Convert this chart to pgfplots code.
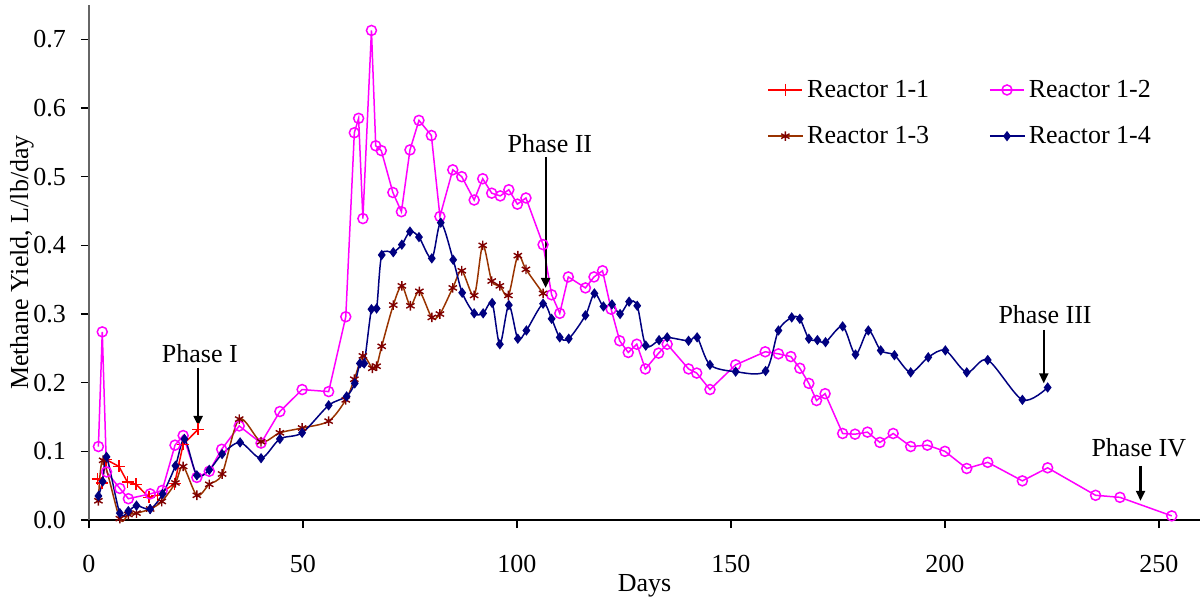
\documentclass[border=0pt]{standalone}
\usepackage{fontspec}
\setmainfont{Liberation Serif}
\usepackage{pgfplots}
\pgfplotsset{compat=1.18}
\usetikzlibrary{arrows.meta}
\definecolor{rred}{RGB}{255,0,0}
\definecolor{rmag}{RGB}{255,0,255}
\definecolor{rbrown}{RGB}{153,51,0}
\definecolor{rmaroon}{RGB}{128,0,0}
\definecolor{rnavy}{RGB}{0,0,128}
\newcommand\ff{\fontsize{13}{15}\selectfont}
\begin{document}
\begin{tikzpicture}
\path[use as bounding box] (-44.5pt,-41pt) rectangle (556pt,260pt);
\begin{axis}[
  scale only axis, width=555.5pt, height=257.5pt,
  xmin=0, xmax=259.6, ymin=0, ymax=0.75,
  axis x line=bottom, axis y line=left,
  x axis line style={-, line width=0.8pt, black},
  y axis line style={-, line width=0.8pt, black!60},
  xtick={0,50,100,150,200,250}, ytick={0,0.1,0.2,0.3,0.4,0.5,0.6,0.7},
  tick align=outside, major tick length=4pt,
  tick style={black, line width=0.6pt},
  /pgf/number format/assume math mode=true,
  tick label style={font=\ff},
  yticklabel style={/pgf/number format/fixed, /pgf/number format/precision=1, /pgf/number format/fixed zerofill, xshift=-4pt},
  xticklabel style={yshift=-10pt},
  xlabel={Days}, ylabel={Methane Yield, L/lb/day},
  label style={font=\ff},
  xlabel style={at={(axis description cs:0.5,-0.128)}, anchor=center},
  ylabel style={at={(axis description cs:-0.0603,0.5)}, anchor=center},
  legend style={at={(axis description cs:0.605,0.871)}, anchor=north west, draw=none, fill=none, font=\ff,
    legend columns=2, row sep=9pt, /tikz/every even column/.append style={column sep=28pt}},
  legend cell align=left,
  clip=false,
]
\addplot[rred, line width=0.75pt, mark=+, mark size=3pt] coordinates {
(2,0.060) (3,0.054) (4,0.088) (7,0.078) (9,0.055) (11,0.052) (14,0.033) (16,0.036) (20,0.053) (22,0.11) (25.5,0.132)
};
\addlegendentry{Reactor 1-1}
\addplot[rmag, line width=0.75pt, mark=o, mark size=2.5pt] coordinates {
(2.2,0.107) (3.1,0.274) (4.1,0.070) (7.2,0.046) (9.2,0.031) (14.3,0.038) (17.1,0.043) (20.1,0.109) (22,0.123) (25.2,0.062) (28.1,0.071) (31,0.103) (35.1,0.137) (40.2,0.112) (44.6,0.158) (49.8,0.19) (56,0.187) (60,0.296) (62,0.564) (63,0.585) (64,0.439) (66,0.713) (67,0.545) (68.3,0.538) (71,0.477) (73,0.449) (75,0.539) (77.1,0.582) (80,0.56) (82,0.442) (85,0.51) (87.1,0.5) (90,0.466) (92,0.497) (94.1,0.476) (96.1,0.472) (98.1,0.481) (100.1,0.46) (102.1,0.469) (106.1,0.401) (108.1,0.328) (110,0.301) (112,0.354) (116,0.338) (118,0.354) (120,0.363) (122,0.307) (124,0.261) (126,0.244) (128,0.256) (130,0.22) (133.1,0.243) (135.1,0.256) (140.1,0.22) (142,0.214) (145.1,0.19) (151.1,0.226) (158,0.245) (161.1,0.242) (164,0.238) (166.1,0.221) (168.2,0.199) (170,0.174) (172,0.184) (176.1,0.126) (179,0.125) (181.9,0.128) (184.8,0.113) (187.9,0.126) (192,0.107) (195.9,0.109) (200,0.1) (205.1,0.075) (210,0.084) (218.1,0.057) (224,0.076) (235.2,0.036) (240.9,0.033) (253,0.006)
};
\addlegendentry{Reactor 1-2}
\addplot[rbrown, line width=0.75pt, smooth, tension=0.5, mark=asterisk, mark size=2.4pt, mark options={rmaroon, line width=0.7pt}] coordinates {
(2.2,0.028) (3.3,0.087) (7.2,0.002) (9.2,0.008) (11.1,0.01) (14.3,0.016) (17,0.027) (20.2,0.054) (22,0.078) (25.2,0.036) (28.1,0.052) (31.1,0.067) (35.1,0.147) (40.2,0.114) (44.6,0.127) (49.8,0.134) (56,0.144) (60,0.175) (62,0.205) (64,0.239) (66.2,0.221) (67.2,0.224) (68.4,0.253) (71.1,0.313) (73.1,0.341) (75.1,0.312) (77.2,0.333) (80.1,0.295) (82,0.300) (85,0.338) (87.1,0.363) (90,0.327) (92,0.40) (94.1,0.348) (96,0.341) (98,0.327) (100.2,0.385) (102.1,0.365) (106.1,0.33)
};
\addlegendentry{Reactor 1-3}
\addplot[rnavy, line width=0.75pt, smooth, tension=0.5, mark=diamond*, mark size=2pt] coordinates {
(2.2,0.035) (3.2,0.056) (4.1,0.092) (7.2,0.01) (9.2,0.013) (11.1,0.021) (14.3,0.016) (17.2,0.038) (20.2,0.079) (22.3,0.118) (25.2,0.065) (28.1,0.073) (31.1,0.096) (35.3,0.113) (40.2,0.09) (44.6,0.118) (49.8,0.127) (56,0.167) (60.2,0.18) (62.1,0.199) (63.3,0.228) (64.3,0.228) (66,0.307) (67.2,0.308) (68.4,0.386) (71.1,0.39) (73.1,0.401) (75,0.42) (77.1,0.412) (80.1,0.381) (82.2,0.433) (85.1,0.379) (87.2,0.331) (90,0.301) (92.1,0.301) (94.2,0.316) (96,0.256) (98.1,0.313) (100.2,0.264) (102.2,0.276) (106.1,0.315) (108.1,0.293) (110,0.266) (112.1,0.264) (116,0.298) (118.1,0.33) (120.2,0.311) (122.2,0.314) (124.1,0.30) (126.2,0.318) (128.1,0.312) (130.1,0.254) (133.2,0.262) (135.1,0.266) (140.1,0.261) (142.1,0.266) (145.1,0.226) (151.1,0.216) (158.1,0.217) (161.1,0.276) (164.2,0.295) (166.1,0.293) (168.2,0.264) (170.2,0.262) (172.1,0.259) (176.1,0.282) (179.1,0.241) (182.1,0.276) (185,0.247) (188.2,0.24) (192,0.215) (196.1,0.237) (200.1,0.247) (205.1,0.215) (210,0.233) (218.1,0.175) (224,0.193)
};
\addlegendentry{Reactor 1-4}
\draw[-{Triangle[length=5pt,width=4.5pt]}, line width=1.1pt] (axis cs:25.5,0.222) -- (axis cs:25.5,0.137);
\node[font=\ff] at (axis cs:25.9,0.243) {Phase I};
\draw[-{Triangle[length=5pt,width=4.5pt]}, line width=1.1pt] (axis cs:106.7,0.529) -- (axis cs:106.7,0.338);
\node[font=\ff] at (axis cs:107.7,0.548) {Phase II};
\draw[-{Triangle[length=5pt,width=4.5pt]}, line width=1.1pt] (axis cs:223.1,0.277) -- (axis cs:223.1,0.199);
\node[font=\ff] at (axis cs:223.4,0.299) {Phase III};
\draw[-{Triangle[length=5pt,width=4.5pt]}, line width=1.1pt] (axis cs:245.7,0.079) -- (axis cs:245.7,0.028);
\node[font=\ff] at (axis cs:245.3,0.105) {Phase IV};
\end{axis}
\end{tikzpicture}
\end{document}
